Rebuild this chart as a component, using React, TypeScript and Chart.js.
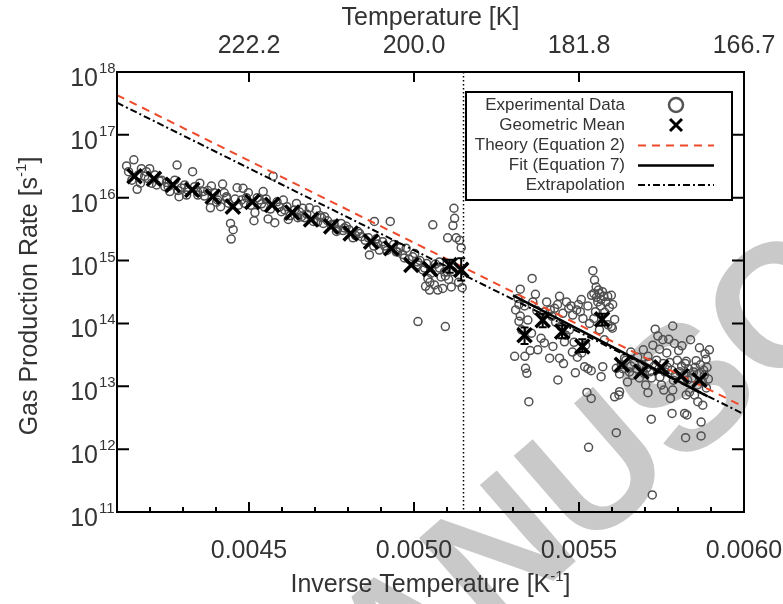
import React, { useEffect, useRef } from 'react';
import { Chart, registerables } from 'chart.js';
Chart.register(...registerables);

// ---------- data ----------
const invTempTickValues = [0.0045, 0.0050, 0.0055, 0.0060];
const invTempTickLabels = ['0.0045', '0.0050', '0.0055', '0.0060'];
const tempTickLabels = ['222.2', '200.0', '181.8', '166.7'];
const rateExponents = [11, 12, 13, 14, 15, 16, 17, 18];

const experimental: [number, number][] = [
  [0.004129, 3.2e16], [0.004151, 4.0e16], [0.004174, 2.9e16], [0.004161, 1.36e16], [0.004171, 1.7e16],
  [0.004189, 2.6e16], [0.004199, 2.9e16], [0.004184, 2.2e16], [0.004282, 3.3e16], [0.004329, 2.6e16],
  [0.00422, 1.6e16], [0.004245, 1.5e16], [0.00426, 1.25e16], [0.004288, 1.04e16], [0.004311, 1.1e16],
  [0.004351, 1.7e16], [0.004361, 1.25e16], [0.004386, 1.53e16], [0.00442, 1.65e16], [0.004383, 6.9e15],
  [0.004414, 7.2e15], [0.004432, 9.8e15], [0.004444, 3.9e15], [0.004452, 3.1e15], [0.004446, 2.2e15],
  [0.004464, 1.44e16], [0.004482, 1.41e16], [0.004498, 1.2e16], [0.004477, 9.2e15], [0.004518, 5.8e15],
  [0.004515, 4.3e15], [0.004543, 1.25e16], [0.004573, 2.2e16], [0.004558, 4.6e15], [0.004578, 4.0e15],
  [0.004604, 9.2e15], [0.004619, 4.5e15], [0.004644, 8.1e15], [0.004659, 5.0e15], [0.004432, 1.04e16],
  [0.004229, 1.85e16], [0.00425, 1.75e16], [0.004295, 1.43e16], [0.004314, 1.33e16], [0.004344, 1.23e16],
  [0.004365, 1.06e16], [0.004405, 9.2e15], [0.004486, 8.2e15], [0.004532, 9.2e15], [0.004547, 7.1e15],
  [0.004592, 7.1e15], [0.004608, 6.4e15], [0.004653, 5.9e15], [0.004668, 4.8e15], [0.004708, 4.1e15],
  [0.00472, 4.8e15], [0.004768, 3.1e15], [0.004789, 3.3e15], [0.004823, 2.5e15], [0.004841, 2.4e15],
  [0.00489, 1.84e15], [0.004911, 1.7e15], [0.00495, 1.37e15], [0.004971, 1.1e15], [0.005011, 9.5e14],
  [0.005032, 7.6e14], [0.005077, 7.6e14], [0.005092, 6.6e14],
  [0.004135, 2.6e16], [0.004145, 1.9e16], [0.004165, 2.3e16], [0.004195, 2.0e16], [0.004205, 1.7e16],
  [0.004215, 2.3e16], [0.004235, 1.9e16], [0.004255, 1.5e16], [0.004275, 1.9e16], [0.004285, 1.3e16],
  [0.004305, 1.6e16], [0.004335, 1.5e16], [0.004345, 1.1e16], [0.004375, 1.3e16], [0.004395, 1.2e16],
  [0.004402, 8.5e15], [0.004425, 1.2e16], [0.004438, 8.2e15], [0.004458, 9.5e15], [0.004468, 7.6e15],
  [0.004492, 1.0e16], [0.004505, 7.6e15], [0.004525, 1.0e16], [0.004538, 8.0e15], [0.004552, 9.5e15],
  [0.004565, 6.6e15], [0.004585, 8.6e15], [0.004598, 6.0e15], [0.004615, 7.2e15], [0.004625, 5.2e15],
  [0.004638, 6.4e15], [0.004648, 4.8e15], [0.004675, 5.5e15], [0.004695, 4.2e15], [0.004715, 5.2e15],
  [0.004725, 3.9e15], [0.004738, 4.3e15], [0.004758, 3.8e15], [0.004765, 2.9e15], [0.004785, 3.0e15],
  [0.004803, 3.1e15], [0.004815, 2.3e15], [0.004835, 2.7e15], [0.004852, 2.1e15], [0.004862, 2.3e15],
  [0.004878, 1.7e15], [0.004885, 2.2e15], [0.004905, 2.0e15], [0.004918, 1.45e15], [0.004938, 1.8e15],
  [0.004958, 1.6e15], [0.004965, 1.25e15], [0.004985, 1.05e15], [0.005002, 1.3e15], [0.005018, 1.0e15],
  [0.005038, 9.0e14], [0.005052, 6.3e14], [0.005065, 8.8e14], [0.005082, 5.5e14], [0.005105, 5.0e14],
  [0.005135, 4.5e14], [0.005048, 4.5e14], [0.005035, 3.9e14],
  [0.004663, 6.8e15], [0.004683, 6.9e15], [0.004704, 6.4e15], [0.004729, 5.0e15], [0.004749, 3.7e15],
  [0.004779, 3.9e15], [0.004795, 3.5e15], [0.00483, 2.9e15], [0.004865, 1.23e15], [0.00488, 4.2e15],
  [0.004895, 1.47e15], [0.004928, 4.2e15], [0.004946, 1.38e15], [0.004976, 1.57e15], [0.004996, 1.15e15],
  [0.005012, 8.5e14], [0.005027, 7.1e14], [0.005057, 3.7e15], [0.005042, 5.2e14], [0.005047, 3.4e14],
  [0.005062, 4.1e14], [0.005072, 3.4e14], [0.005087, 3.6e14], [0.005113, 3.8e14], [0.005121, 6.8e15],
  [0.005123, 4.7e15], [0.005118, 3.6e15], [0.005102, 2.3e15], [0.005128, 2.3e15], [0.005138, 2.1e15],
  [0.005143, 1.6e15], [0.005146, 3.7e14], [0.005118, 6.7e14], [0.005012, 1.07e14], [0.005095, 8.9e13],
  [0.005077, 9.5e14], [0.005095, 5.7e14],
  [0.005358, 5.2e14], [0.005542, 6.9e14], [0.005322, 3.5e14], [0.005315, 2.5e14], [0.005308, 1.64e14],
  [0.005322, 1.31e14], [0.005318, 1.08e14], [0.005345, 1.13e14], [0.005368, 2.9e14], [0.00536, 2.2e14],
  [0.005385, 5.8e13], [0.005395, 4.9e13], [0.005375, 3.8e13], [0.005352, 3.7e13], [0.005336, 3.0e13],
  [0.005338, 1.93e13], [0.005342, 1.61e13], [0.005348, 5.7e12], [0.005413, 1.64e14], [0.005426, 1.74e14],
  [0.005441, 2.7e14], [0.005451, 1.45e14], [0.005469, 1.74e14], [0.005481, 1.36e14], [0.005493, 1.64e14],
  [0.005507, 2.4e14], [0.005504, 1.54e14], [0.005421, 4.3e13], [0.005411, 2.8e13], [0.005441, 2.8e13],
  [0.005453, 2.3e13], [0.005436, 1.26e13], [0.005489, 1.64e13], [0.005517, 2.05e13], [0.005527, 1.9e13],
  [0.005537, 1.77e13], [0.005524, 8.0e12], [0.005537, 6.4e12], [0.005552, 3.8e14], [0.005557, 2.2e14],
  [0.005567, 2.4e14], [0.00555, 1.54e14], [0.005562, 7.9e13], [0.005587, 2.7e14], [0.005602, 2.0e14],
  [0.005608, 1.16e14], [0.005601, 8.4e13], [0.005577, 5.5e13], [0.005572, 2.05e13], [0.005567, 1.42e13],
  [0.005613, 1.93e13], [0.005623, 8.2e12], [0.005608, 6.8e12], [0.005613, 1.83e12], [0.005529, 1.07e12],
  [0.005527, 1.9e14], [0.005532, 1.0e14], [0.005722, 1.87e11], [0.005547, 4.9e14], [0.005559, 3.4e14],
  [0.005571, 3.2e14], [0.005538, 2.8e14], [0.005395, 1.52e14], [0.005429, 1.05e14], [0.005471, 7.9e13],
  [0.005456, 5.1e13], [0.00548, 3.5e13], [0.005495, 2.9e13],
  [0.005318, 2.0e14], [0.005335, 1.9e14], [0.005372, 1.6e14], [0.005402, 2.2e14], [0.005418, 1.3e14],
  [0.005435, 2.0e14], [0.005462, 2.2e14], [0.005476, 1.9e14], [0.005498, 2.0e14], [0.005512, 1.2e14],
  [0.005445, 9.0e13], [0.00546, 6.5e13], [0.005485, 5.0e13], [0.005545, 3.0e14], [0.005553, 2.6e14],
  [0.005562, 3.0e14], [0.005575, 2.7e14], [0.005582, 2.2e14], [0.005565, 1.9e14], [0.005578, 1.5e14],
  [0.005592, 1.8e14], [0.005545, 1.2e14], [0.005588, 9.5e13], [0.00552, 4.5e13], [0.005508, 3.4e13],
  [0.005598, 2.8e14], [0.005598, 8.9e13], [0.005621, 7.3e12], [0.005731, 8.1e13], [0.005784, 9.1e13],
  [0.005739, 6.3e13], [0.005754, 5.5e13], [0.005772, 5.6e13], [0.005789, 4.8e13], [0.005838, 5.5e13],
  [0.005724, 4.5e13], [0.005766, 3.4e13], [0.005802, 3.7e13], [0.005709, 3.0e13], [0.005825, 2.5e13],
  [0.005855, 2.55e13], [0.005885, 2.7e13], [0.005702, 1.05e13], [0.005709, 7.9e12], [0.005757, 8.7e12],
  [0.005784, 8.7e12], [0.005777, 6.4e12], [0.005825, 7.3e12], [0.00585, 7.3e12], [0.00586, 5.7e12],
  [0.005875, 5.0e12], [0.005782, 3.7e12], [0.00582, 3.7e12], [0.005827, 3.5e12], [0.005719, 3.0e12],
  [0.00587, 2.7e12], [0.005823, 1.52e12], [0.00587, 1.62e12],
  [0.005638, 2.8e13], [0.005653, 1.69e13], [0.005668, 2.4e13], [0.005683, 1.36e13], [0.005705, 1.95e13],
  [0.00572, 1.36e13], [0.005735, 2.6e13], [0.00576, 1.69e13], [0.005775, 2.4e13], [0.005792, 1.51e13],
  [0.005811, 2.1e13], [0.005829, 1.26e13], [0.005847, 1.69e13], [0.005859, 1.05e13], [0.00588, 1.51e13],
  [0.005886, 9.4e12], [0.005647, 1.17e13], [0.005623, 1.57e13], [0.00575, 1.05e13], [0.005835, 8.1e12],
  [0.005628, 2.2e13], [0.005633, 1.9e13], [0.005642, 2.6e13], [0.005657, 2.1e13], [0.005662, 1.5e13],
  [0.005675, 1.9e13], [0.005678, 2.9e13], [0.005692, 2.2e13], [0.005698, 1.6e13], [0.005712, 2.4e13],
  [0.005715, 1.7e13], [0.005728, 2.1e13], [0.005742, 1.9e13], [0.005745, 1.4e13], [0.005755, 2.3e13],
  [0.005768, 2.0e13], [0.005781, 1.8e13], [0.005786, 1.25e13], [0.005798, 2.6e13], [0.005805, 1.7e13],
  [0.005818, 1.5e13], [0.005822, 2.3e13], [0.005832, 1.9e13], [0.005842, 1.35e13], [0.005852, 2.0e13],
  [0.005865, 1.6e13], [0.005868, 2.2e13], [0.005874, 1.2e13], [0.005878, 1.8e13], [0.005888, 2.0e13],
  [0.005892, 1.3e13], [0.005657, 3.5e13], [0.005695, 3.8e13], [0.005744, 3.9e13], [0.005812, 4.4e13],
  [0.005865, 4.1e13], [0.005882, 3.3e13], [0.005895, 3.8e13],
  [0.005326, 7.9e13], [0.005356, 7.0e13], [0.005305, 3.0e13],
];

const meanX = [0.004153, 0.004212, 0.004269, 0.004328, 0.00439, 0.004451, 0.00451, 0.00457, 0.004631, 0.004688,
  0.004749, 0.004808, 0.00487, 0.004931, 0.004992, 0.005049, 0.005108, 0.005143, 0.005335, 0.00539,
  0.005449, 0.00551, 0.00557, 0.00563, 0.005689, 0.005749, 0.00581, 0.005865];
const meanY = [2.2e16, 2.0e16, 1.6e16, 1.33e16, 1.04e16, 7.2e15, 8.6e15, 7.7e15, 5.8e15, 4.5e15,
  3.5e15, 2.7e15, 2.0e15, 1.57e15, 8.5e14, 7.3e14, 8.5e14, 7.1e14, 6.5e13, 1.13e14,
  7.4e13, 4.3e13, 1.16e14, 2.2e13, 1.7e13, 2.0e13, 1.46e13, 1.26e13];

const errX = [0.005108, 0.005143, 0.005335, 0.00539, 0.005449, 0.00551, 0.00557];
const errLow = [6.4e14, 4.8e14, 4.7e13, 8.7e13, 5.8e13, 3.5e13, 9.3e13];
const errHigh = [1.03e15, 1.09e15, 8.6e13, 1.42e14, 9.3e13, 5.6e13, 1.42e14];

const theoryX = [0.0041, 0.0060];
const theoryY = [4.3e17, 4.7e12];
const fitX = [0.0053, 0.00589];
const fitY = [2.8e14, 6.9e12];
const extrapX = [0.0041, 0.0060];
const extrapY = [3.25e17, 3.6e12];
const boundaryX = 0.00515;

const legendLabels = ['Experimental Data', 'Geometric Mean', 'Theory (Equation 2)', 'Fit (Equation 7)', 'Extrapolation'];

// ---------- styling ----------
const FONT = '"Liberation Sans", Arial, Helvetica, sans-serif';
const TEXT = '#333';
const RED = '#ee4a2a';

type Part = { t: string; sup?: boolean };

function drawRich(ctx: CanvasRenderingContext2D, parts: Part[], x: number, y: number, size: number, align: 'left' | 'center' | 'right') {
  const supSize = Math.round(size * 0.6);
  let total = 0;
  const widths = parts.map((p) => {
    ctx.font = `${p.sup ? supSize : size}px ${FONT}`;
    const w = ctx.measureText(p.t).width;
    total += w;
    return w;
  });
  let cx = align === 'left' ? x : align === 'center' ? x - total / 2 : x - total;
  ctx.textAlign = 'left';
  ctx.textBaseline = 'alphabetic';
  parts.forEach((p, i) => {
    ctx.font = `${p.sup ? supSize : size}px ${FONT}`;
    ctx.fillText(p.t, cx, p.sup ? y - size * 0.45 : y);
    cx += widths[i];
  });
}

const decor = {
  id: 'decor',
  beforeDraw(chart: any) {
    const ctx: CanvasRenderingContext2D = chart.ctx;
    ctx.save();
    ctx.fillStyle = '#fff';
    ctx.fillRect(0, 0, chart.width, chart.height);
    // watermark
    const F = 175;
    ctx.translate(683, 385);
    ctx.rotate((-41 * Math.PI) / 180);
    ctx.font = `bold ${F}px ${FONT}`;
    ctx.fillStyle = '#c9c9c9';
    ctx.textBaseline = 'alphabetic';
    ctx.textAlign = 'left';
    const pre = ctx.measureText('ACCEPTED MANU').width;
    const sW = ctx.measureText('S').width;
    ctx.fillText('ACCEPTED MANUSCRIPT', -pre - sW / 2, F * 0.358);
    ctx.restore();
  },
  afterDatasetsDraw(chart: any) {
    const ctx: CanvasRenderingContext2D = chart.ctx;
    const xs = chart.scales.x;
    const ys = chart.scales.y;
    const a = chart.chartArea;
    ctx.save();
    ctx.strokeStyle = '#000';
    ctx.lineWidth = 2;
    errX.forEach((xv, i) => {
      const px = xs.getPixelForValue(xv);
      const y1 = ys.getPixelForValue(errLow[i]);
      const y2 = ys.getPixelForValue(errHigh[i]);
      ctx.beginPath();
      ctx.moveTo(px, y1); ctx.lineTo(px, y2);
      ctx.moveTo(px - 4, y1); ctx.lineTo(px + 4, y1);
      ctx.moveTo(px - 4, y2); ctx.lineTo(px + 4, y2);
      ctx.stroke();
    });
    const bx = xs.getPixelForValue(boundaryX);
    ctx.setLineDash([1.5, 2.5]);
    ctx.lineWidth = 1.5;
    ctx.beginPath();
    ctx.moveTo(bx, a.top); ctx.lineTo(bx, a.bottom);
    ctx.stroke();
    ctx.setLineDash([]);
    ctx.restore();
  },
  afterDraw(chart: any) {
    const ctx: CanvasRenderingContext2D = chart.ctx;
    const xs = chart.scales.x;
    const ys = chart.scales.y;
    const a = chart.chartArea;
    ctx.save();
    ctx.strokeStyle = '#000';
    ctx.lineWidth = 2;
    ctx.strokeRect(a.left, a.top, a.right - a.left, a.bottom - a.top);
    ctx.beginPath();
    for (let i = 41; i <= 60; i++) {
      const px = xs.getPixelForValue(i / 10000);
      ctx.moveTo(px, a.bottom); ctx.lineTo(px, a.bottom - 5);
    }
    invTempTickValues.forEach((v) => {
      const px = xs.getPixelForValue(v);
      ctx.moveTo(px, a.bottom); ctx.lineTo(px, a.bottom - 10);
      ctx.moveTo(px, a.top); ctx.lineTo(px, a.top + 10);
    });
    rateExponents.forEach((e) => {
      const py = ys.getPixelForValue(Math.pow(10, e));
      ctx.moveTo(a.left, py); ctx.lineTo(a.left + 12, py);
      ctx.moveTo(a.right, py); ctx.lineTo(a.right - 12, py);
    });
    ctx.stroke();

    ctx.fillStyle = TEXT;
    ctx.font = `25px ${FONT}`;
    ctx.textAlign = 'center';
    ctx.textBaseline = 'middle';
    invTempTickValues.forEach((v, i) => {
      ctx.fillText(invTempTickLabels[i], xs.getPixelForValue(v), 551);
      ctx.fillText(tempTickLabels[i], xs.getPixelForValue(v), 46);
    });
    rateExponents.forEach((e) => {
      const py = ys.getPixelForValue(Math.pow(10, e));
      ctx.font = `25px ${FONT}`;
      ctx.textAlign = 'right';
      ctx.textBaseline = 'alphabetic';
      ctx.fillText('10', a.left - 19, py + 14);
      ctx.font = `15px ${FONT}`;
      ctx.textAlign = 'left';
      ctx.fillText(String(e), a.left - 18, py + 1);
    });
    ctx.textAlign = 'center';
    ctx.textBaseline = 'middle';
    ctx.font = `25px ${FONT}`;
    ctx.fillText('Temperature [K]', (a.left + a.right) / 2, 18);
    drawRich(ctx, [{ t: 'Inverse Temperature [K' }, { t: '-1', sup: true }, { t: ']' }], (a.left + a.right) / 2, 592, 25, 'center');
    ctx.save();
    ctx.translate(37, (a.top + a.bottom) / 2 + 4);
    ctx.rotate(-Math.PI / 2);
    drawRich(ctx, [{ t: 'Gas Production Rate [s' }, { t: '-1', sup: true }, { t: ']' }], 0, 0, 25, 'center');
    ctx.restore();

    // legend
    const L = { x1: 466, y1: 92, x2: 732, y2: 200 };
    ctx.fillStyle = '#fff';
    ctx.fillRect(L.x1, L.y1, L.x2 - L.x1, L.y2 - L.y1);
    ctx.strokeStyle = '#000';
    ctx.lineWidth = 2;
    ctx.strokeRect(L.x1, L.y1, L.x2 - L.x1, L.y2 - L.y1);
    const rows = [105, 125, 145.5, 165.5, 185];
    ctx.fillStyle = TEXT;
    ctx.font = `17px ${FONT}`;
    ctx.textAlign = 'right';
    ctx.textBaseline = 'middle';
    legendLabels.forEach((t, i) => ctx.fillText(t, 625, rows[i]));
    ctx.strokeStyle = '#555';
    ctx.lineWidth = 2.5;
    ctx.beginPath();
    ctx.arc(676, rows[0], 7, 0, Math.PI * 2);
    ctx.stroke();
    ctx.strokeStyle = '#000';
    ctx.lineWidth = 3;
    ctx.beginPath();
    ctx.moveTo(670, rows[1] - 6); ctx.lineTo(682, rows[1] + 6);
    ctx.moveTo(682, rows[1] - 6); ctx.lineTo(670, rows[1] + 6);
    ctx.stroke();
    ctx.lineWidth = 2;
    ctx.strokeStyle = RED;
    ctx.setLineDash([8, 6]);
    ctx.beginPath(); ctx.moveTo(638, rows[2]); ctx.lineTo(714, rows[2]); ctx.stroke();
    ctx.strokeStyle = '#000';
    ctx.setLineDash([]);
    ctx.lineWidth = 2.5;
    ctx.beginPath(); ctx.moveTo(638, rows[3]); ctx.lineTo(714, rows[3]); ctx.stroke();
    ctx.lineWidth = 2;
    ctx.setLineDash([7, 3, 2, 3]);
    ctx.beginPath(); ctx.moveTo(638, rows[4]); ctx.lineTo(714, rows[4]); ctx.stroke();
    ctx.setLineDash([]);
    ctx.restore();
  },
};

export default function App() {
  const ref = useRef<HTMLCanvasElement>(null);
  useEffect(() => {
    document.body.style.margin = '0';
    const canvas = ref.current!;
    const chart = new Chart(canvas, {
      type: 'scatter',
      data: {
        datasets: [
          {
            label: 'Geometric Mean',
            data: meanX.map((x, i) => ({ x, y: meanY[i] })),
            pointStyle: 'crossRot',
            pointRadius: 10,
            borderColor: '#000',
            borderWidth: 3.5,
            showLine: false,
          },
          {
            label: 'Fit (Equation 7)',
            data: fitX.map((x, i) => ({ x, y: fitY[i] })),
            showLine: true,
            pointRadius: 0,
            borderColor: '#000',
            borderWidth: 2.5,
          },
          {
            label: 'Theory (Equation 2)',
            data: theoryX.map((x, i) => ({ x, y: theoryY[i] })),
            showLine: true,
            pointRadius: 0,
            borderColor: RED,
            borderWidth: 2,
            borderDash: [8, 6],
          },
          {
            label: 'Extrapolation',
            data: extrapX.map((x, i) => ({ x, y: extrapY[i] })),
            showLine: true,
            pointRadius: 0,
            borderColor: '#000',
            borderWidth: 2,
            borderDash: [7, 3, 2, 3],
          },
          {
            label: 'Experimental Data',
            data: experimental.map(([x, y]) => ({ x, y })),
            pointStyle: 'circle',
            pointRadius: 4,
            borderColor: '#505050',
            backgroundColor: 'rgba(0,0,0,0)',
            borderWidth: 1.5,
          },
        ],
      },
      options: {
        responsive: false,
        animation: false,
        events: [],
        layout: { padding: { left: 117, top: 72, right: 39, bottom: 92 } },
        plugins: { legend: { display: false }, tooltip: { enabled: false } },
        scales: {
          x: { type: 'linear', min: 0.0041, max: 0.006, display: false },
          y: { type: 'logarithmic', min: 1e11, max: 1e18, display: false },
        },
      },
      plugins: [decor],
    });
    return () => chart.destroy();
  }, []);
  return <canvas ref={ref} width={783} height={604} style={{ display: 'block' }} />;
}
